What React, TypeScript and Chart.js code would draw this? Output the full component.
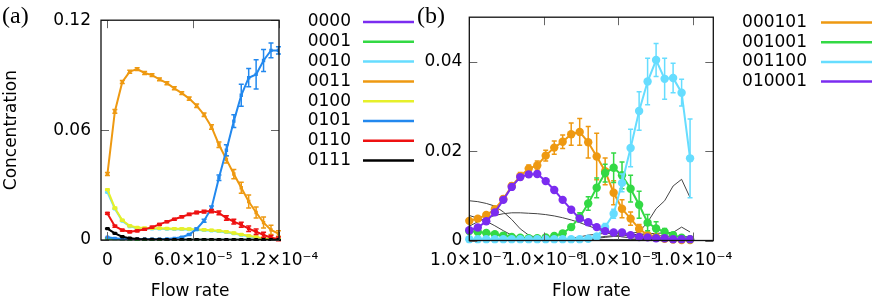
import React, { useEffect, useRef } from "react";
import { Chart, registerables } from "chart.js";
Chart.register(...registerables);

const SANS = "'DejaVu Sans', sans-serif";
const SERIF = "'Liberation Serif', 'Times New Roman', serif";

// ---------- Panel (a) ----------
const flowA = [0, 5.2e-6, 1.04e-5, 1.56e-5, 2.08e-5, 2.6e-5, 3.12e-5, 3.64e-5, 4.16e-5, 4.68e-5, 5.2e-5, 5.72e-5,
  6.24e-5, 6.76e-5, 7.28e-5, 7.8e-5, 8.32e-5, 8.84e-5, 9.36e-5, 9.88e-5, 1.04e-4, 1.092e-4, 1.144e-4, 1.196e-4];

const a0000 = [0.0012, 0.0006, 0.0003, 0.0002, 0.0001, 0.0001, 0.0001, 0.0001, 0.0001, 0.0001, 0.0001, 0.0001,
  0.0001, 0.0001, 0.0001, 0.0001, 0.0001, 0.0001, 0.0001, 0.0001, 0.0001, 0.0001, 0.0001, 0.0001];
const a0001 = [0.0008, 0.0005, 0.0003, 0.0002, 0.0001, 0.0001, 0.0001, 0.0001, 0.0001, 0.0001, 0.0001, 0.0001,
  0.0001, 0.0001, 0.0001, 0.0001, 0.0001, 0.0001, 0.0001, 0.0001, 0.0001, 0.0001, 0.0001, 0.0001];
const a0010 = [0.026, 0.017, 0.0104, 0.0074, 0.0064, 0.0062, 0.0061, 0.0061, 0.006, 0.0059, 0.0058, 0.0057,
  0.0055, 0.0053, 0.005, 0.0047, 0.0042, 0.0035, 0.0027, 0.002, 0.0013, 0.0008, 0.0004, 0.0002];
const a0011 = [0.036, 0.0702, 0.0863, 0.0919, 0.0933, 0.0912, 0.09, 0.0877, 0.0856, 0.0828, 0.0802, 0.0772,
  0.0733, 0.0684, 0.0617, 0.052, 0.044, 0.036, 0.0285, 0.021, 0.015, 0.0095, 0.0055, 0.0035];
const a0100 = [0.0275, 0.0175, 0.0108, 0.0078, 0.0068, 0.0065, 0.0064, 0.0064, 0.0063, 0.0062, 0.0061, 0.006,
  0.0058, 0.0056, 0.0053, 0.005, 0.0045, 0.0038, 0.003, 0.0023, 0.0016, 0.001, 0.0006, 0.0003];
const a0101 = [0.0015, 0.0009, 0.0006, 0.0005, 0.0004, 0.0004, 0.0004, 0.0005, 0.0006, 0.0009, 0.0015, 0.003,
  0.006, 0.0105, 0.0175, 0.034, 0.049, 0.0649, 0.079, 0.0886, 0.0904, 0.098, 0.1035, 0.1035];
const a0110 = [0.0145, 0.0075, 0.0054, 0.0045, 0.005, 0.0058, 0.007, 0.0085, 0.01, 0.0113, 0.0127, 0.014,
  0.015, 0.0155, 0.0158, 0.0148, 0.012, 0.01, 0.0083, 0.0062, 0.0045, 0.0028, 0.0012, 0.0006];
const a0111 = [0.0062, 0.0036, 0.0018, 0.001, 0.0006, 0.0004, 0.0003, 0.0003, 0.0002, 0.0002, 0.0002, 0.0002,
  0.0002, 0.0002, 0.0002, 0.0001, 0.0001, 0.0001, 0.0001, 0.0001, 0.0001, 0.0001, 0.0001, 0.0001];

const errSmallA = [0.0002, 0.0002, 0.0002, 0.0002, 0.0002, 0.0002, 0.0002, 0.0002, 0.0002, 0.0002, 0.0002, 0.0002,
  0.0002, 0.0002, 0.0002, 0.0002, 0.0002, 0.0002, 0.0002, 0.0002, 0.0002, 0.0002, 0.0002, 0.0002];
const errA0011 = [0.0008, 0.001, 0.0008, 0.0008, 0.0008, 0.0008, 0.0008, 0.0008, 0.0008, 0.0008, 0.0008, 0.0009,
  0.001, 0.001, 0.0012, 0.0015, 0.002, 0.0025, 0.003, 0.0035, 0.003, 0.003, 0.0025, 0.0015];
const errA0100 = [0.0004, 0.0004, 0.0004, 0.0004, 0.0004, 0.0004, 0.0004, 0.0004, 0.0004, 0.0004, 0.0004, 0.0004,
  0.0004, 0.0004, 0.0004, 0.0004, 0.0004, 0.0004, 0.0004, 0.0004, 0.0004, 0.0004, 0.0004, 0.0004];
const errA0101 = [0, 0, 0, 0, 0, 0, 0, 0, 0, 0, 0.0003, 0.0004, 0.0005, 0.0008, 0.001, 0.0015, 0.003, 0.0035,
  0.006, 0.005, 0.008, 0.006, 0.004, 0.002];
const errA0110 = [0.0005, 0.0005, 0.0005, 0.0005, 0.0005, 0.0005, 0.0005, 0.0005, 0.0005, 0.0005, 0.0006, 0.0006,
  0.0007, 0.0008, 0.0009, 0.001, 0.0012, 0.0013, 0.0014, 0.0015, 0.0015, 0.0014, 0.0012, 0.001];

const labelsA = ["0000", "0001", "0010", "0011", "0100", "0101", "0110", "0111"];
const colorsA = ["#7b2cf0", "#33d944", "#66ddff", "#ee9911", "#e6f02a", "#2288ee", "#ee1111", "#000000"];
const seriesA = [a0000, a0001, a0010, a0011, a0100, a0101, a0110, a0111];
const errorsA = [errSmallA, errSmallA, errSmallA, errA0011, errA0100, errA0101, errA0110, errSmallA];

const aXTicks = [0, 6e-5, 1.2e-4];
const aXTickLabels = ["0", "6.0×10⁻⁵", "1.2×10⁻⁴"];
const aYTicks = [0, 0.06, 0.12];
const aYTickLabels = ["0", "0.06", "0.12"];

// ---------- Panel (b) ----------
const flowB = [1.0e-7, 1.3e-7, 1.69e-7, 2.2e-7, 2.86e-7, 3.71e-7, 4.83e-7, 6.27e-7, 8.16e-7, 1.06e-6, 1.38e-6,
  1.79e-6, 2.33e-6, 3.03e-6, 3.94e-6, 5.12e-6, 6.65e-6, 8.65e-6, 1.12e-5, 1.46e-5, 1.9e-5, 2.47e-5, 3.21e-5,
  4.18e-5, 5.43e-5, 7.06e-5, 9.17e-5];

const b000101 = [0.0044, 0.0049, 0.0057, 0.007, 0.0093, 0.0122, 0.0144, 0.0161, 0.0168, 0.019, 0.0208, 0.0221,
  0.0238, 0.0243, 0.022, 0.0188, 0.0155, 0.0107, 0.0071, 0.0049, 0.0026, 0.0012, 0.0008, 0.0004, 0.0002, 0.0001, 0.0001];
const b001001 = [0.0021, 0.0019, 0.0017, 0.0014, 0.0011, 0.0008, 0.0006, 0.0005, 0.0005, 0.0007, 0.001, 0.0016,
  0.003, 0.0052, 0.0083, 0.0118, 0.0151, 0.0163, 0.0146, 0.0116, 0.008, 0.004, 0.0027, 0.0019, 0.0012, 0.0006, 0.0003];
const b001100 = [0.0003, 0.0003, 0.0003, 0.0003, 0.0003, 0.0003, 0.0003, 0.0003, 0.0003, 0.0003, 0.0003, 0.0003,
  0.0003, 0.0003, 0.0004, 0.0009, 0.003, 0.006, 0.0129, 0.0207, 0.029, 0.0356, 0.0404, 0.0362, 0.0364, 0.0331, 0.0184];
const b010001 = [0.0023, 0.0029, 0.0043, 0.0063, 0.0091, 0.012, 0.0142, 0.0148, 0.0149, 0.0133, 0.0113, 0.0091,
  0.0069, 0.0049, 0.0041, 0.003, 0.0021, 0.0018, 0.0018, 0.0012, 0.0008, 0.0007, 0.0005, 0.0005, 0.0003, 0.0003, 0.0003];

const errB000101 = [0.0004, 0.0004, 0.0005, 0.0005, 0.0006, 0.0007, 0.0008, 0.0008, 0.001, 0.0012, 0.0015, 0.0015,
  0.0025, 0.003, 0.0035, 0.0052, 0.003, 0.0027, 0.002, 0.0015, 0.001, 0.0006, 0.0005, 0.0003, 0.0002, 0.0001, 0.0001];
const errB001001 = [0.0002, 0.0002, 0.0002, 0.0002, 0.0002, 0.0002, 0.0002, 0.0002, 0.0002, 0.0002, 0.0003, 0.0004,
  0.0006, 0.001, 0.0015, 0.0022, 0.002, 0.0033, 0.003, 0.003, 0.003, 0.0018, 0.0015, 0.0008, 0.0006, 0.0004, 0.0003];
const errB001100 = [0.0001, 0.0001, 0.0001, 0.0001, 0.0001, 0.0001, 0.0001, 0.0001, 0.0001, 0.0001, 0.0001, 0.0001,
  0.0001, 0.0001, 0.0001, 0.0002, 0.0008, 0.001, 0.002, 0.0042, 0.0043, 0.0052, 0.0037, 0.0046, 0.0033, 0.003, 0.0088];
const errB010001 = [0.0003, 0.0003, 0.0003, 0.0003, 0.0004, 0.0004, 0.0005, 0.0005, 0.0005, 0.0005, 0.0004, 0.0004,
  0.0004, 0.0003, 0.0003, 0.0003, 0.0002, 0.0002, 0.0002, 0.0002, 0.0001, 0.0001, 0.0001, 0.0001, 0.0001, 0.0001, 0.0001];

// other species (thin lines, no legend)
const bOther1 = [0.0089, 0.0087, 0.0083, 0.0077, 0.0064, 0.0047, 0.0026, 0.0012, 0.0006, 0.0004, 0.0003, 0.0002,
  0.0002, 0.0002, 0.0002, 0.0002, 0.0002, 0.0002, 0.0002, 0.0002, 0.0002, 0.0002, 0.0002, 0.0002, 0.0002, 0.0002, 0.0002];
const bOther2 = [0.0056, 0.005, 0.0043, 0.0033, 0.0022, 0.0012, 0.0007, 0.0004, 0.0003, 0.0002, 0.0002, 0.0002,
  0.0002, 0.0002, 0.0002, 0.0002, 0.0002, 0.0002, 0.0002, 0.0002, 0.0002, 0.0002, 0.0002, 0.0002, 0.0002, 0.0002, 0.0002];
const bOther3 = [0.0032, 0.0042, 0.005, 0.0056, 0.006, 0.0062, 0.0062, 0.0061, 0.006, 0.0058, 0.0055, 0.0051,
  0.0046, 0.004, 0.0033, 0.0026, 0.0019, 0.0012, 0.0008, 0.0006, 0.0005, 0.0004, 0.0004, 0.0003, 0.0003, 0.0003, 0.0003];
const bOther4 = [0.0001, 0.0001, 0.0001, 0.0001, 0.0001, 0.0001, 0.0001, 0.0001, 0.0001, 0.0001, 0.0001, 0.0001,
  0.0002, 0.0003, 0.0005, 0.0007, 0.0009, 0.0011, 0.0013, 0.0016, 0.0019, 0.0041, 0.0071, 0.0089, 0.0122, 0.0137, 0.0096];
const bOther5 = [0.0001, 0.0001, 0.0001, 0.0001, 0.0001, 0.0001, 0.0001, 0.0001, 0.0001, 0.0001, 0.0001, 0.0001,
  0.0001, 0.0002, 0.0003, 0.0005, 0.0007, 0.0009, 0.001, 0.0012, 0.0014, 0.0015, 0.0016, 0.0017, 0.0018, 0.003, 0.0019];
const bOther6 = [0.0002, 0.0002, 0.0002, 0.0002, 0.0002, 0.0002, 0.0002, 0.0002, 0.0002, 0.0002, 0.0002, 0.0002,
  0.0004, 0.0008, 0.0012, 0.0014, 0.0016, 0.0016, 0.0015, 0.0014, 0.0013, 0.0012, 0.0011, 0.001, 0.0009, 0.0009, 0.0008];

const labelsB = ["000101", "001001", "001100", "010001"];
const colorsB = ["#ee9911", "#33d944", "#66ddff", "#7b2cf0"];
const seriesB = [b000101, b001001, b001100, b010001];
const errorsB = [errB000101, errB001001, errB001100, errB010001];
const othersB = [bOther1, bOther2, bOther3, bOther4, bOther5, bOther6];

const bXTicks = [1e-7, 1e-6, 1e-5, 1e-4];
const bXTickLabels = ["1.0×10⁻⁷", "1.0×10⁻⁶", "1.0×10⁻⁵", "1.0×10⁻⁴"];
const bYTicks = [0, 0.02, 0.04];
const bYTickLabels = ["0", "0.02", "0.04"];

// ---------- plugins ----------
const errorBarPlugin = {
  id: "errorBars",
  afterDatasetDraw(chart: any, args: any) {
    const ds: any = chart.data.datasets[args.index];
    const err = ds.errors;
    if (!err) return;
    const ys = chart.scales.y;
    const ctx = chart.ctx;
    ctx.save();
    ctx.strokeStyle = ds.borderColor;
    ctx.lineWidth = ds.errorWidth || 1.5;
    const cap = ds.capHalf || 2.5;
    args.meta.data.forEach((pt: any, i: number) => {
      const e = err[i];
      if (!e) return;
      const v = ds.data[i].y;
      const y1 = ys.getPixelForValue(v - e);
      const y2 = ys.getPixelForValue(v + e);
      ctx.beginPath();
      ctx.moveTo(pt.x, y1); ctx.lineTo(pt.x, y2);
      ctx.moveTo(pt.x - cap, y1); ctx.lineTo(pt.x + cap, y1);
      ctx.moveTo(pt.x - cap, y2); ctx.lineTo(pt.x + cap, y2);
      ctx.stroke();
    });
    ctx.restore();
  },
};

const framePlugin = {
  id: "frame",
  afterDatasetsDraw(chart: any, _args: any, opts: any) {
    const { ctx, chartArea: a, scales } = chart;
    ctx.save();
    ctx.strokeStyle = "#666";
    ctx.lineWidth = 1;
    const L = 8;
    ctx.beginPath();
    for (const v of opts.xTicks) {
      const x = Math.round(scales.x.getPixelForValue(v)) + 0.5;
      ctx.moveTo(x, a.top); ctx.lineTo(x, a.top + L);
      ctx.moveTo(x, a.bottom); ctx.lineTo(x, a.bottom - L);
    }
    for (const v of opts.yTicks) {
      const y = Math.round(scales.y.getPixelForValue(v)) + 0.5;
      ctx.moveTo(a.left, y); ctx.lineTo(a.left + L, y);
      ctx.moveTo(a.right, y); ctx.lineTo(a.right - L, y);
    }
    ctx.stroke();
    ctx.strokeStyle = "#111";
    ctx.lineWidth = 1.3;
    ctx.strokeRect(a.left, a.top, a.right - a.left, a.bottom - a.top);
    ctx.restore();
  },
};

const sideLegendPlugin = {
  id: "sideLegend",
  afterDraw(chart: any, _args: any, opts: any) {
    const ctx = chart.ctx;
    ctx.save();
    ctx.font = `17px ${SANS}`;
    ctx.textAlign = "right";
    ctx.textBaseline = "middle";
    ctx.fillStyle = "#000";
    opts.items.forEach((it: any, i: number) => {
      const y = opts.y0 + i * opts.dy;
      ctx.fillStyle = "#000";
      ctx.fillText(it.label, opts.textRight, y);
      ctx.strokeStyle = it.color;
      ctx.lineWidth = 2.5;
      ctx.beginPath();
      ctx.moveTo(opts.x0, y);
      ctx.lineTo(opts.x1, y);
      ctx.stroke();
    });
    ctx.font = `24px ${SERIF}`;
    ctx.textAlign = "left";
    ctx.textBaseline = "alphabetic";
    ctx.fillStyle = "#000";
    ctx.fillText(opts.panel, opts.panelX, opts.panelY);
    ctx.restore();
  },
};

const tickFont = { family: SANS, size: 17 };
const titleFont = { family: SANS, size: 17 };

function axisCommon(ticksArr: number[], labelsArr: string[], padding: number) {
  return {
    afterBuildTicks: (s: any) => {
      s.ticks = ticksArr.map((v) => ({ value: v }));
    },
    ticks: {
      autoSkip: false,
      maxRotation: 0,
      minRotation: 0,
      padding,
      color: "#000",
      font: tickFont,
      callback: (_v: any, i: number) => labelsArr[i],
    },
    grid: { display: false, drawTicks: false },
    border: { display: false },
  };
}

function configA(): any {
  const datasets = seriesA.map((s, i) => ({
    label: labelsA[i],
    data: flowA.map((x, k) => ({ x, y: s[k] })),
    errors: errorsA[i],
    borderColor: colorsA[i],
    backgroundColor: colorsA[i],
    borderWidth: 2,
    pointStyle: "rect",
    pointRadius: 2.4,
    pointBorderWidth: 0,
    tension: 0,
    order: 100 - i,
    errorWidth: 1.5,
    capHalf: 2.5,
  }));
  return {
    type: "line",
    data: { datasets },
    plugins: [errorBarPlugin, framePlugin, sideLegendPlugin],
    options: {
      animation: false,
      responsive: false,
      devicePixelRatio: 1,
      layout: { padding: { left: 0, right: 141, top: 12, bottom: 0 } },
      scales: {
        x: {
          type: "linear",
          min: -4.5e-6,
          max: 1.2e-4,
          afterFit: (s: any) => { s.height = 67; },
          ...axisCommon(aXTicks, aXTickLabels, 10),
          title: { display: true, text: "Flow rate", color: "#000", font: titleFont, padding: { top: 0, bottom: 5 } },
        },
        y: {
          type: "linear",
          min: 0,
          max: 0.12,
          afterFit: (s: any) => { s.width = 101; },
          ...axisCommon(aYTicks, aYTickLabels, 10),
          title: { display: true, text: "Concentration", color: "#000", font: titleFont, padding: { top: 1, bottom: 0 } },
        },
      },
      plugins: {
        legend: { display: false },
        tooltip: { enabled: false },
        frame: { xTicks: aXTicks, yTicks: aYTicks },
        sideLegend: {
          items: labelsA.map((l, i) => ({ label: l, color: colorsA[i] })),
          textRight: 351, x0: 363, x1: 414, y0: 22, dy: 19.8,
          panel: "(a)", panelX: 2, panelY: 23,
        },
      },
    },
  };
}

function configB(): any {
  const others = othersB.map((s, i) => ({
    label: "other" + i,
    data: flowB.map((x, k) => ({ x, y: s[k] })),
    borderColor: "#444",
    borderWidth: 1,
    pointRadius: 0,
    tension: 0,
    order: 200 - i,
    clip: false,
  }));
  const main = seriesB.map((s, i) => ({
    label: labelsB[i],
    data: flowB.map((x, k) => ({ x, y: s[k] })),
    errors: errorsB[i],
    borderColor: colorsB[i],
    backgroundColor: colorsB[i],
    borderWidth: 2,
    pointStyle: "circle",
    pointRadius: 4.2,
    pointBorderWidth: 0,
    tension: 0,
    order: 100 - i,
    clip: false,
    errorWidth: 1.5,
    capHalf: 2.5,
  }));
  return {
    type: "line",
    data: { datasets: [...main, ...others] },
    plugins: [errorBarPlugin, framePlugin, sideLegendPlugin],
    options: {
      animation: false,
      responsive: false,
      devicePixelRatio: 1,
      layout: { padding: { left: 0, right: 158.7, top: 12, bottom: 0 } },
      scales: {
        x: {
          type: "logarithmic",
          min: 1e-7,
          max: 1.88e-4,
          afterFit: (s: any) => { s.height = 66.5; },
          ...axisCommon(bXTicks, bXTickLabels, 10),
          title: { display: true, text: "Flow rate", color: "#000", font: titleFont, padding: { top: 0, bottom: 5 } },
        },
        y: {
          type: "linear",
          min: 0,
          max: 0.05,
          afterFit: (s: any) => { s.width = 59.3; },
          ...axisCommon(bYTicks, bYTickLabels, 7),
        },
      },
      plugins: {
        legend: { display: false },
        tooltip: { enabled: false },
        frame: { xTicks: bXTicks, yTicks: bYTicks },
        sideLegend: {
          items: labelsB.map((l, i) => ({ label: l, color: colorsB[i] })),
          textRight: 397, x0: 411, x1: 462, y0: 22.5, dy: 19.7,
          panel: "(b)", panelX: 7, panelY: 23,
        },
      },
    },
  };
}

function ChartCanvas({ make, left, width }: { make: () => any; left: number; width: number }) {
  const ref = useRef<HTMLCanvasElement | null>(null);
  useEffect(() => {
    if (!ref.current) return;
    const chart = new Chart(ref.current, make());
    return () => chart.destroy();
  }, []);
  return (
    <canvas
      ref={ref}
      width={width}
      height={307}
      style={{ position: "absolute", left, top: 0, width, height: 307 }}
    />
  );
}

export default function App() {
  return (
    <div style={{ position: "absolute", left: 0, top: 0, width: 872, height: 307, background: "#fff", overflow: "hidden" }}>
      <ChartCanvas make={configA} left={0} width={420} />
      <ChartCanvas make={configB} left={410} width={462} />
    </div>
  );
}
